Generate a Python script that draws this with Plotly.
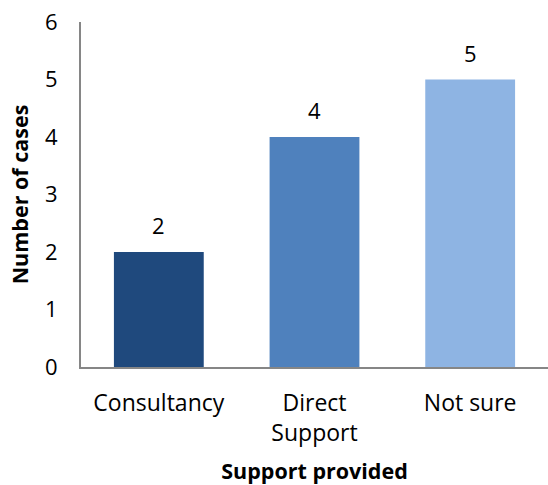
import plotly.graph_objects as go

categories = ["Consultancy", "Direct<br>Support", "Not sure"]
cases = [2, 4, 5]
bar_colors = ["#1F497D", "#4F81BD", "#8EB4E3"]
y_ticks = [0, 1, 2, 3, 4, 5, 6]

font_family = "'Open Sans', sans-serif"

fig = go.Figure(
    go.Bar(
        x=categories,
        y=cases,
        marker=dict(color=bar_colors, line=dict(width=0)),
        width=0.577,
        hoverinfo="skip",
    )
)

# value labels above each bar
for cat, val in zip(categories, cases):
    fig.add_annotation(
        x=cat, y=val, text=str(val), showarrow=False,
        yshift=27, font=dict(size=22, color="#000000", family=font_family),
    )

fig.update_layout(
    width=548,
    height=485,
    margin=dict(l=81, r=0, t=22, b=118),
    paper_bgcolor="white",
    plot_bgcolor="white",
    showlegend=False,
    font=dict(family=font_family, color="#000000"),
    xaxis=dict(
        showline=True, linecolor="#868686", linewidth=2, automargin=False,
        showgrid=False, ticks="", tickfont=dict(size=23), ticklabelstandoff=14,
        title=dict(text="<b>Support provided</b>", font=dict(size=21.5), standoff=19),
    ),
    yaxis=dict(
        range=[0, 6], tickvals=y_ticks, showline=True, linecolor="#868686",
        linewidth=2, showgrid=False, ticks="", zeroline=False, automargin=False,
        tickfont=dict(size=22), ticklabelstandoff=17,
        title=dict(text="<b>Number of cases</b>", font=dict(size=21.5), standoff=10),
    ),
)

fig.write_html("out.html")
